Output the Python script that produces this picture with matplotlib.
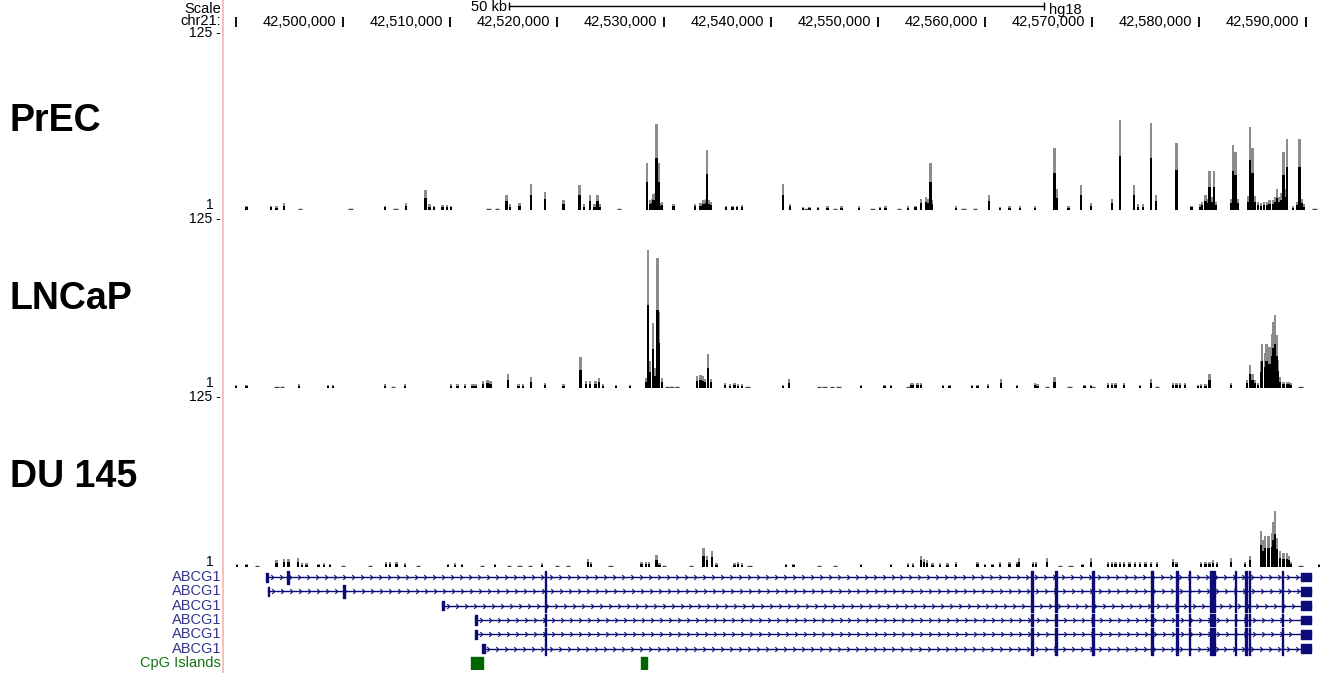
import numpy as np
import matplotlib
matplotlib.use("Agg")
import matplotlib.pyplot as plt
from matplotlib.lines import Line2D
from matplotlib.path import Path

plt.rcParams['font.family'] = ['Liberation Sans', 'DejaVu Sans']

# view window (kb on chr21, hg18)
X_MIN, X_MAX = 42489.07, 42591.78
TICK_KB = [42490, 42500, 42510, 42520, 42530, 42540, 42550, 42560, 42570, 42580, 42590]
TICK_LABELS = ["", "42,500,000", "42,510,000", "42,520,000", "42,530,000", "42,540,000",
               "42,550,000", "42,560,000", "42,570,000", "42,580,000", "42,590,000"]
SCALE_BAR = (42515.5, 42565.5)

# PrEC signal (kb, value)
prec_pos = [42491.0, 42493.3, 42493.8, 42494.5, 42503.9, 42505.9, 42507.7, 42508.1, 42508.5,
            42509.3, 42509.7, 42510.1, 42515.3, 42515.6, 42516.5, 42517.6, 42518.9, 42520.6,
            42522.1, 42522.5, 42523.1, 42523.5, 42523.8, 42524.0, 42528.4, 42528.7, 42528.9,
            42529.0, 42529.2, 42529.3, 42529.5, 42529.6, 42529.8, 42530.9, 42532.9, 42533.4,
            42533.7, 42533.9, 42534.0, 42534.2, 42534.4, 42535.8, 42536.4, 42536.8, 42537.3,
            42541.1, 42541.8, 42543.0, 42543.6, 42544.4, 42545.3, 42546.6, 42548.2, 42550.2,
            42550.7, 42552.8, 42553.5, 42554.0, 42554.5, 42554.7, 42554.9, 42555.0, 42557.3,
            42560.4, 42561.4, 42562.3, 42563.3, 42564.7, 42566.5, 42566.7, 42567.8, 42569.0,
            42569.9, 42571.9, 42572.6, 42573.9, 42574.3, 42574.8, 42575.5, 42576.0, 42577.9,
            42579.3, 42580.1, 42580.3, 42580.6, 42580.8, 42581.0, 42581.2, 42581.4, 42581.6,
            42583.0, 42583.2, 42583.4, 42583.6, 42584.6, 42584.8, 42585.0, 42585.2, 42585.5,
            42585.8, 42586.1, 42586.4, 42586.6, 42586.9, 42587.1, 42587.3, 42587.5, 42587.7,
            42587.9, 42588.0, 42588.2, 42588.8, 42589.2, 42589.4, 42589.6, 42589.8]
prec_val = [3, 3, 2.5, 4.9, 3, 4.9, 14, 4, 3,
            3.5, 3.5, 3, 10.5, 4, 5, 18.2, 12.6, 7,
            17.5, 4, 10.5, 4, 10.5, 4, 32.9, 7, 8,
            11.2, 12, 60.9, 32.9, 5, 6, 4.5, 4.5, 5,
            7, 8, 42.7, 7, 6, 3, 3, 3, 3.5,
            18.2, 4.5, 2, 2, 2, 2.5, 2.5, 2.5, 2,
            2.5, 2.5, 3, 7.7, 9.1, 8, 32.9, 7, 2.5,
            10.5, 2, 2.5, 2.5, 2.5, 44.1, 14.7, 2.5, 17.5,
            5, 7.7, 63.7, 17.5, 4, 4, 61.6, 10.5, 47.6,
            3, 4, 6, 10.5, 8, 27.3, 9, 27.3, 6,
            8, 46.2, 41.3, 8, 10, 58.8, 44.1, 10, 6,
            5, 6, 6, 7, 7, 9, 14.7, 9, 12,
            41.3, 15, 50.4, 2.5, 6, 50.4, 8, 4]
prec_dash = [42496.0, 42500.7, 42504.9, 42513.6, 42514.4, 42525.8, 42543.3, 42546.0,
             42549.5, 42552.0, 42558.0, 42559.1, 42590.8]

# LNCaP signal (kb, value)
lncap_pos = [42490.0, 42491.0, 42495.9, 42498.6, 42499.1, 42503.9, 42505.8, 42510.1, 42510.7,
             42511.4, 42512.1, 42512.4, 42513.1, 42513.5, 42513.8, 42515.4, 42516.4, 42516.8,
             42517.6, 42518.9, 42520.6, 42522.2, 42522.7, 42523.1, 42523.6, 42523.9, 42524.3,
             42525.5, 42526.8, 42528.3, 42528.5, 42528.7, 42529.0, 42529.2, 42529.4, 42529.5,
             42529.8, 42533.1, 42533.4, 42533.6, 42533.8, 42534.1, 42534.4, 42535.7, 42536.2,
             42536.6, 42536.9, 42537.3, 42541.1, 42541.7, 42548.4, 42550.6, 42551.2, 42553.1,
             42553.3, 42553.7, 42554.0, 42556.1, 42556.7, 42558.8, 42559.3, 42560.3, 42561.5,
             42563.0, 42564.7, 42564.9, 42566.5, 42569.3, 42569.9, 42571.5, 42571.9, 42572.2,
             42573.0, 42574.5, 42575.5, 42577.6, 42577.9, 42578.2, 42578.7, 42579.9, 42580.2,
             42580.6, 42581.0, 42583.0, 42584.5, 42584.8, 42585.0, 42585.2, 42585.5, 42585.8,
             42585.9, 42586.2, 42586.3, 42586.5, 42586.6, 42586.8, 42586.9, 42587.1, 42587.3,
             42587.4, 42587.6, 42587.9, 42588.2, 42588.4, 42588.6]
lncap_val = [2, 2, 3, 2, 2, 3, 3, 3, 3,
             3, 3, 3, 5.5, 6, 5.5, 10, 3, 3,
             8, 4, 3, 22.6, 5, 5, 5, 7.5, 3,
             2, 2, 7.5, 102, 20, 48, 15, 96, 56,
             7.5, 9, 9.5, 9, 7, 25, 7, 3.5, 3,
             3.5, 3, 3, 2, 6.5, 2.5, 2, 2.5, 4,
             4, 3.5, 4, 2.5, 2.5, 2.5, 2.5, 3, 6.5,
             2.5, 3.5, 3, 8, 2.5, 2.5, 3.5, 4, 3.5,
             3.5, 2.5, 6.5, 4, 4, 3.5, 3.5, 2.5, 3,
             3, 10.4, 3.5, 6, 16.7, 10, 6, 4, 20,
             32.7, 26, 32.7, 28, 30, 40, 49, 54, 39,
             21, 8, 4.5, 4.5, 4.5, 4]
lncap_dash = [42493.8, 42494.3, 42504.7, 42530.3, 42530.7, 42531.2, 42537.8, 42544.5,
              42545.0, 42545.7, 42546.3, 42552.8, 42565.8, 42567.9, 42570.1, 42576.1, 42589.5]

# DU 145 signal (kb, value)
du145_pos = [42490.1, 42491.0, 42493.8, 42494.5, 42494.9, 42495.8, 42496.2, 42496.6, 42497.7,
             42498.2, 42498.8, 42504.0, 42504.4, 42505.0, 42505.8, 42509.8, 42510.5, 42511.1,
             42514.2, 42518.6, 42522.9, 42523.2, 42527.9, 42528.3, 42528.6, 42529.3, 42529.6,
             42533.7, 42534.0, 42534.5, 42534.9, 42536.6, 42536.9, 42537.3, 42541.4, 42542.1,
             42548.4, 42551.2, 42552.8, 42553.3, 42554.0, 42554.3, 42554.6, 42555.1, 42555.8,
             42556.5, 42557.3, 42559.3, 42560.0, 42560.7, 42561.4, 42562.3, 42563.0, 42563.2,
             42564.5, 42564.8, 42565.8, 42569.1, 42569.9, 42571.5, 42571.9, 42572.2, 42572.6,
             42573.0, 42573.5, 42574.0, 42574.5, 42575.0, 42575.5, 42576.1, 42577.6, 42577.9,
             42580.2, 42580.6, 42581.0, 42581.3, 42581.7, 42583.0, 42584.3, 42584.8, 42585.8,
             42586.0, 42586.2, 42586.5, 42586.8, 42586.9, 42587.1, 42587.3, 42587.6, 42587.9,
             42588.2, 42588.4, 42588.6, 42591.2]
du145_val = [2, 2.5, 5, 6, 6, 6.5, 3, 3, 2.5,
             3, 2.5, 3.5, 3.5, 3.5, 3, 2.5, 3, 2.5,
             2.5, 3, 6, 4, 3.5, 4, 3.5, 8.5, 3,
             14, 8, 12, 3, 3, 4, 3, 2.5, 2.5,
             2.5, 2.5, 3, 3, 8, 6, 5, 3, 3,
             3, 3.5, 3.5, 2.5, 2.5, 4, 4, 4, 6.5,
             4, 4, 6.5, 2.5, 6.5, 4, 4, 4, 3.5,
             4, 4, 4, 3.5, 4, 4, 3.5, 6, 4,
             4, 4, 4, 5, 4, 6.5, 4, 8, 26.5,
             20, 23, 23, 25, 33, 41, 21.5, 11.6, 10,
             10, 8, 4, 2]
du145_dash = [42492.0, 42500.0, 42502.5, 42507.0, 42513.0, 42515.5, 42516.5, 42517.5,
              42520.0, 42521.0, 42525.0, 42530.0, 42532.5, 42538.0, 42544.5, 42546.0,
              42567.0, 42568.0, 42589.5]

# ABCG1 transcripts
tx_start = [42492.9, 42493.0, 42509.3, 42512.4, 42512.4, 42513.1]
tx_end = 42590.5
tx_first_exons = [
    [(42492.85, 42493.0), (42494.75, 42494.95)],
    [(42492.95, 42493.1), (42500.05, 42500.2)],
    [(42509.25, 42509.45)],
    [(42512.35, 42512.5)],
    [(42512.35, 42512.5)],
    [(42513.0, 42513.25)],
]
shared_exons = [(42518.85, 42519.0), (42564.35, 42564.5), (42566.55, 42566.7), (42570.05, 42570.2),
                (42575.5, 42575.75), (42577.85, 42578.0), (42579.05, 42579.2), (42581.05, 42581.2),
                (42581.35, 42581.5), (42583.35, 42583.5), (42584.35, 42584.5), (42584.65, 42584.8),
                (42587.75, 42587.9)]
last_exon = (42589.5, 42590.5)
cpg_islands = [(42512.0, 42513.1), (42527.85, 42528.4)]

W, H = 1325, 673
fig = plt.figure(figsize=(W / 100, H / 100), dpi=100)
fig.patch.set_facecolor("white")


def fx(px):
    return px / W


def fy(py):
    return 1 - py / H


def track_axes(top, bottom):
    ax = fig.add_axes([fx(226), fy(bottom), fx(W) - fx(226), (bottom - top) / H])
    ax.set_xlim(X_MIN, X_MAX)
    ax.axis("off")
    return ax


# pink separator
fig.add_artist(Line2D([fx(223), fx(223)], [0, 1], color="#f2b5b5", lw=1.2))

# header
hdr = track_axes(0, 30)
hdr.set_ylim(30, 0)
hdr.plot(SCALE_BAR, [6, 6], color="black", lw=1)
hdr.vlines(SCALE_BAR, 2, 10, color="black", lw=1)
hdr.text(SCALE_BAR[0] - 0.15, 7, "50 kb", ha="right", va="center", fontsize=10.5)
hdr.text(SCALE_BAR[1] + 0.5, 10, "hg18", ha="left", va="center", fontsize=10.5)
hdr.vlines(TICK_KB, 17, 27, color="black", lw=1.3)
for kb, lab in zip(TICK_KB, TICK_LABELS):
    if lab:
        hdr.text(kb - 0.6, 22, lab, ha="right", va="center", fontsize=10.5)
fig.text(fx(221), fy(9), "Scale", ha="right", va="center", fontsize=10.5)
fig.text(fx(221), fy(21), "chr21:", ha="right", va="center", fontsize=10.5)

# signal tracks
tracks = [
    ("PrEC", prec_pos, prec_val, prec_dash, 33, 210, 121),
    ("LNCaP", lncap_pos, lncap_val, lncap_dash, 219, 388, 299),
    ("DU 145", du145_pos, du145_val, du145_dash, 397, 567, 477),
]
for name, pos, val, dash, top, bottom, label_y in tracks:
    ax = track_axes(top, bottom)
    ax.set_ylim(0, 125)
    val = np.array(val)
    ax.bar(pos, val, width=0.22, color="#8c8c8c", linewidth=0)
    ax.bar(pos, val * 0.6, width=0.22, color="black", linewidth=0)
    ax.hlines(np.full(len(dash), 0.6), np.array(dash) - 0.2, np.array(dash) + 0.2,
              color="#444444", lw=1)
    fig.text(fx(221), fy(top), "125 -", ha="right", va="center", fontsize=10)
    fig.text(fx(214), fy(bottom - 5), "1", ha="right", va="center", fontsize=10)
    fig.text(fx(10), fy(label_y), name, ha="left", va="center", fontsize=27, fontweight="bold")

# gene + CpG track
gene_color = "#0c0c78"
gx = track_axes(570, 670)
gx.set_ylim(7, 0)
chevron = Path([(-0.5, 1), (0.5, 0), (-0.5, -1)], [Path.MOVETO, Path.LINETO, Path.LINETO])
for i, start in enumerate(tx_start):
    y = i + 0.5
    gx.plot([start, tx_end], [y, y], color=gene_color, lw=1)
    arrows = np.arange(start + 0.5, last_exon[0] - 0.2, 0.84)
    gx.plot(arrows, np.full(len(arrows), y), linestyle="none", marker=chevron,
            markersize=3.5, mfc="none", mec=gene_color, mew=0.8)
    first = tx_first_exons[i]
    gx.broken_barh([(s, e - s) for s, e in first[:1]], (y - 0.32, 0.64), color=gene_color)
    gx.broken_barh([(s, e - s) for s, e in first[1:]], (y - 0.45, 0.9), color=gene_color)
    gx.broken_barh([(s, e - s) for s, e in shared_exons], (y - 0.45, 0.9), color=gene_color)
    gx.broken_barh([(last_exon[0], last_exon[1] - last_exon[0])], (y - 0.3, 0.6), color=gene_color)
    fig.text(fx(221), fy(570 + y * 100 / 7), "ABCG1", ha="right", va="center",
             fontsize=10.5, color="#34348f")

gx.broken_barh([(s, e - s) for s, e in cpg_islands], (6.5 - 0.4, 0.8), color="#006400")
fig.text(fx(221), fy(570 + 6.5 * 100 / 7), "CpG Islands", ha="right", va="center",
         fontsize=10.5, color="#127512")

fig.savefig("out.png", dpi=100)
